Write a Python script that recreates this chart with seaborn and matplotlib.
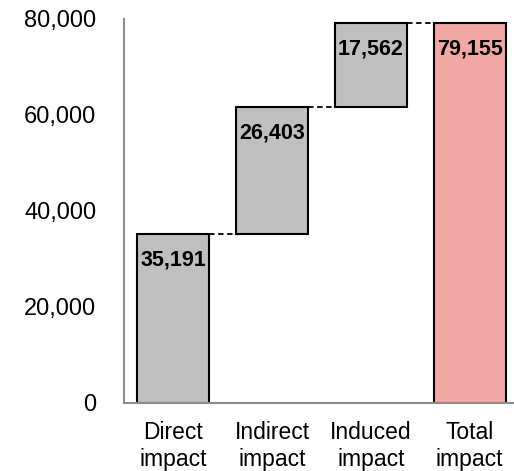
import numpy as np
import matplotlib
matplotlib.use("Agg")
import matplotlib.pyplot as plt
import seaborn as sns

categories = ["Direct\nimpact", "Indirect\nimpact", "Induced\nimpact", "Total\nimpact"]
increments = [35191, 26403, 17562]
total = 79155
y_ticks = [0, 20000, 40000, 60000, 80000]

sns.set_theme(style="white")
plt.rcParams["font.family"] = ["Liberation Sans", "DejaVu Sans"]
plt.rcParams["text.color"] = "black"

heights = increments + [total]
cum = np.cumsum(increments)
bases = list(np.concatenate([[0], cum[:-1]])) + [0]

fig = plt.figure(figsize=(5.14, 4.71), dpi=100)
ax = fig.add_axes([0.2412, 0.1444, 0.7588, 0.8153])

grey = "#BFBFBF"
pink = "#F2A8A4"
sns.barplot(x=categories, y=heights, bottom=bases, color=grey, width=0.73,
            edgecolor="black", linewidth=1.5, saturation=1, ax=ax, zorder=2)
for i, p in enumerate(ax.patches):
    p.set_facecolor(pink if i == len(heights) - 1 else grey)

# dashed connectors between bar tops
for i, lvl in enumerate(cum):
    ax.plot([i, i + 1], [lvl, lvl], color="black", linestyle=(0, (3, 2)),
            linewidth=1.3, zorder=3)

# value labels near the top of each bar
for i, (b, h) in enumerate(zip(bases, heights)):
    ax.annotate(f"{h:,}", xy=(i, b + h), xytext=(0, -26), textcoords="offset pixels",
                ha="center", va="center", fontsize=15.5, fontweight="bold",
                color="black", zorder=4)

ax.set_ylim(0, 80000)
ax.set_xlim(-0.5, 3.45)
ax.set_yticks(y_ticks)
ax.set_yticklabels([f"{v:,}" for v in y_ticks], fontsize=17)
ax.tick_params(axis="y", length=0, pad=20, labelcolor="black")
ax.tick_params(axis="x", length=0, pad=13, labelsize=16.5, labelcolor="black")
ax.set_xlabel("")
ax.set_ylabel("")

for s in ["top", "right"]:
    ax.spines[s].set_visible(False)
for s in ["left", "bottom"]:
    ax.spines[s].set_color("#8C8C8C")
    ax.spines[s].set_linewidth(1.5)

fig.savefig("out.png", dpi=100)
